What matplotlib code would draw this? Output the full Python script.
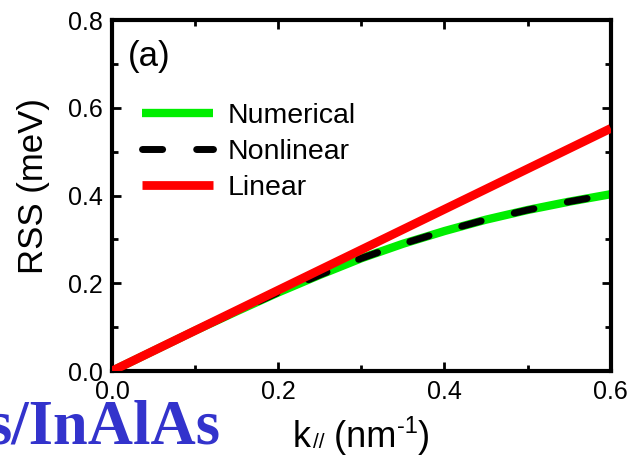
import matplotlib
matplotlib.use("Agg")
import matplotlib.pyplot as plt
from matplotlib.ticker import MultipleLocator

plt.rcParams['font.family'] = ['Liberation Sans', 'DejaVu Sans']

# Rashba spin splitting vs in-plane wave vector
k_par = [0.0, 0.05, 0.10, 0.15, 0.20, 0.25, 0.30, 0.35, 0.40, 0.45, 0.50, 0.55, 0.60]
rss_numerical = [0.0, 0.046, 0.092, 0.136, 0.179, 0.219, 0.257, 0.290, 0.319, 0.345, 0.367, 0.386, 0.403]
rss_nonlinear = [0.0, 0.046, 0.092, 0.136, 0.179, 0.219, 0.257, 0.290, 0.319, 0.345, 0.367, 0.386, 0.403]
k_lin = [0.0, 0.60]
rss_linear = [0.0, 0.553]

x_ticks = [0.0, 0.2, 0.4, 0.6]
y_ticks = [0.0, 0.2, 0.4, 0.6, 0.8]

W, H = 629, 455
fig = plt.figure(figsize=(W / 100, H / 100), dpi=100)
ax = fig.add_axes([0.178, 0.1846, 0.793, 0.7714])

ax.plot(k_par, rss_numerical, color='#00ee00', lw=6, solid_capstyle='butt',
        label='Numerical', zorder=2)
ax.plot(k_par, rss_nonlinear, color='black', lw=5, dashes=(2.9, 4.9),
        dash_capstyle='round', label='Nonlinear', zorder=3)
ax.plot(k_lin, rss_linear, color='#ff0000', lw=6.3, solid_capstyle='butt',
        label='Linear', zorder=4)

ax.set_xlim(0, 0.6)
ax.set_ylim(0, 0.8)
ax.set_xticks(x_ticks)
ax.set_yticks(y_ticks)
ax.set_xticklabels([f"{v:.1f}" for v in x_ticks])
ax.set_yticklabels([f"{v:.1f}" for v in y_ticks])
ax.xaxis.set_minor_locator(MultipleLocator(0.1))
ax.yaxis.set_minor_locator(MultipleLocator(0.1))
ax.tick_params(which='both', direction='in', top=True, right=True, width=2)
ax.tick_params(which='major', length=6.5, labelsize=18)
ax.tick_params(which='minor', length=4.5)
ax.tick_params(axis='y', pad=6.5)
ax.tick_params(axis='x', pad=6.5)
for s in ax.spines.values():
    s.set_linewidth(3)

ax.set_ylabel('RSS (meV)', fontsize=25)
ax.yaxis.set_label_coords(-0.124, 0.527)

ax.text(0.032, 0.895, '(a)', transform=ax.transAxes, fontsize=25,
        ha='left', va='center')

ax.legend(loc='upper left', bbox_to_anchor=(0.06, 0.765), frameon=False,
          fontsize=20.5, handlelength=2.5, handletextpad=0.5,
          labelspacing=0.36, borderpad=0, borderaxespad=0)

# x-axis label built from pieces so the sub/superscripts stay small
fig.canvas.draw()
renderer = fig.canvas.get_renderer()


def piece(x_px, base_px, s, size):
    t = fig.text(x_px / W, base_px / H, s, fontsize=size,
                 ha='left', va='baseline')
    return x_px + t.get_window_extent(renderer).width


base = 8
x = 293
x = piece(x, base, 'k', 26) + 2
x = piece(x, base - 1, '//', 15)
x = piece(x, base, ' (nm', 26)
x = piece(x, base + 14, '-1', 17)
piece(x, base, ')', 26)

fig.text(220 / W, 0.026, 's/InAlAs', ha='right', va='baseline',
         fontsize=45, fontweight='bold', color='#3333cc',
         family=['Liberation Serif', 'DejaVu Serif'])

fig.savefig('out.png', dpi=100)
